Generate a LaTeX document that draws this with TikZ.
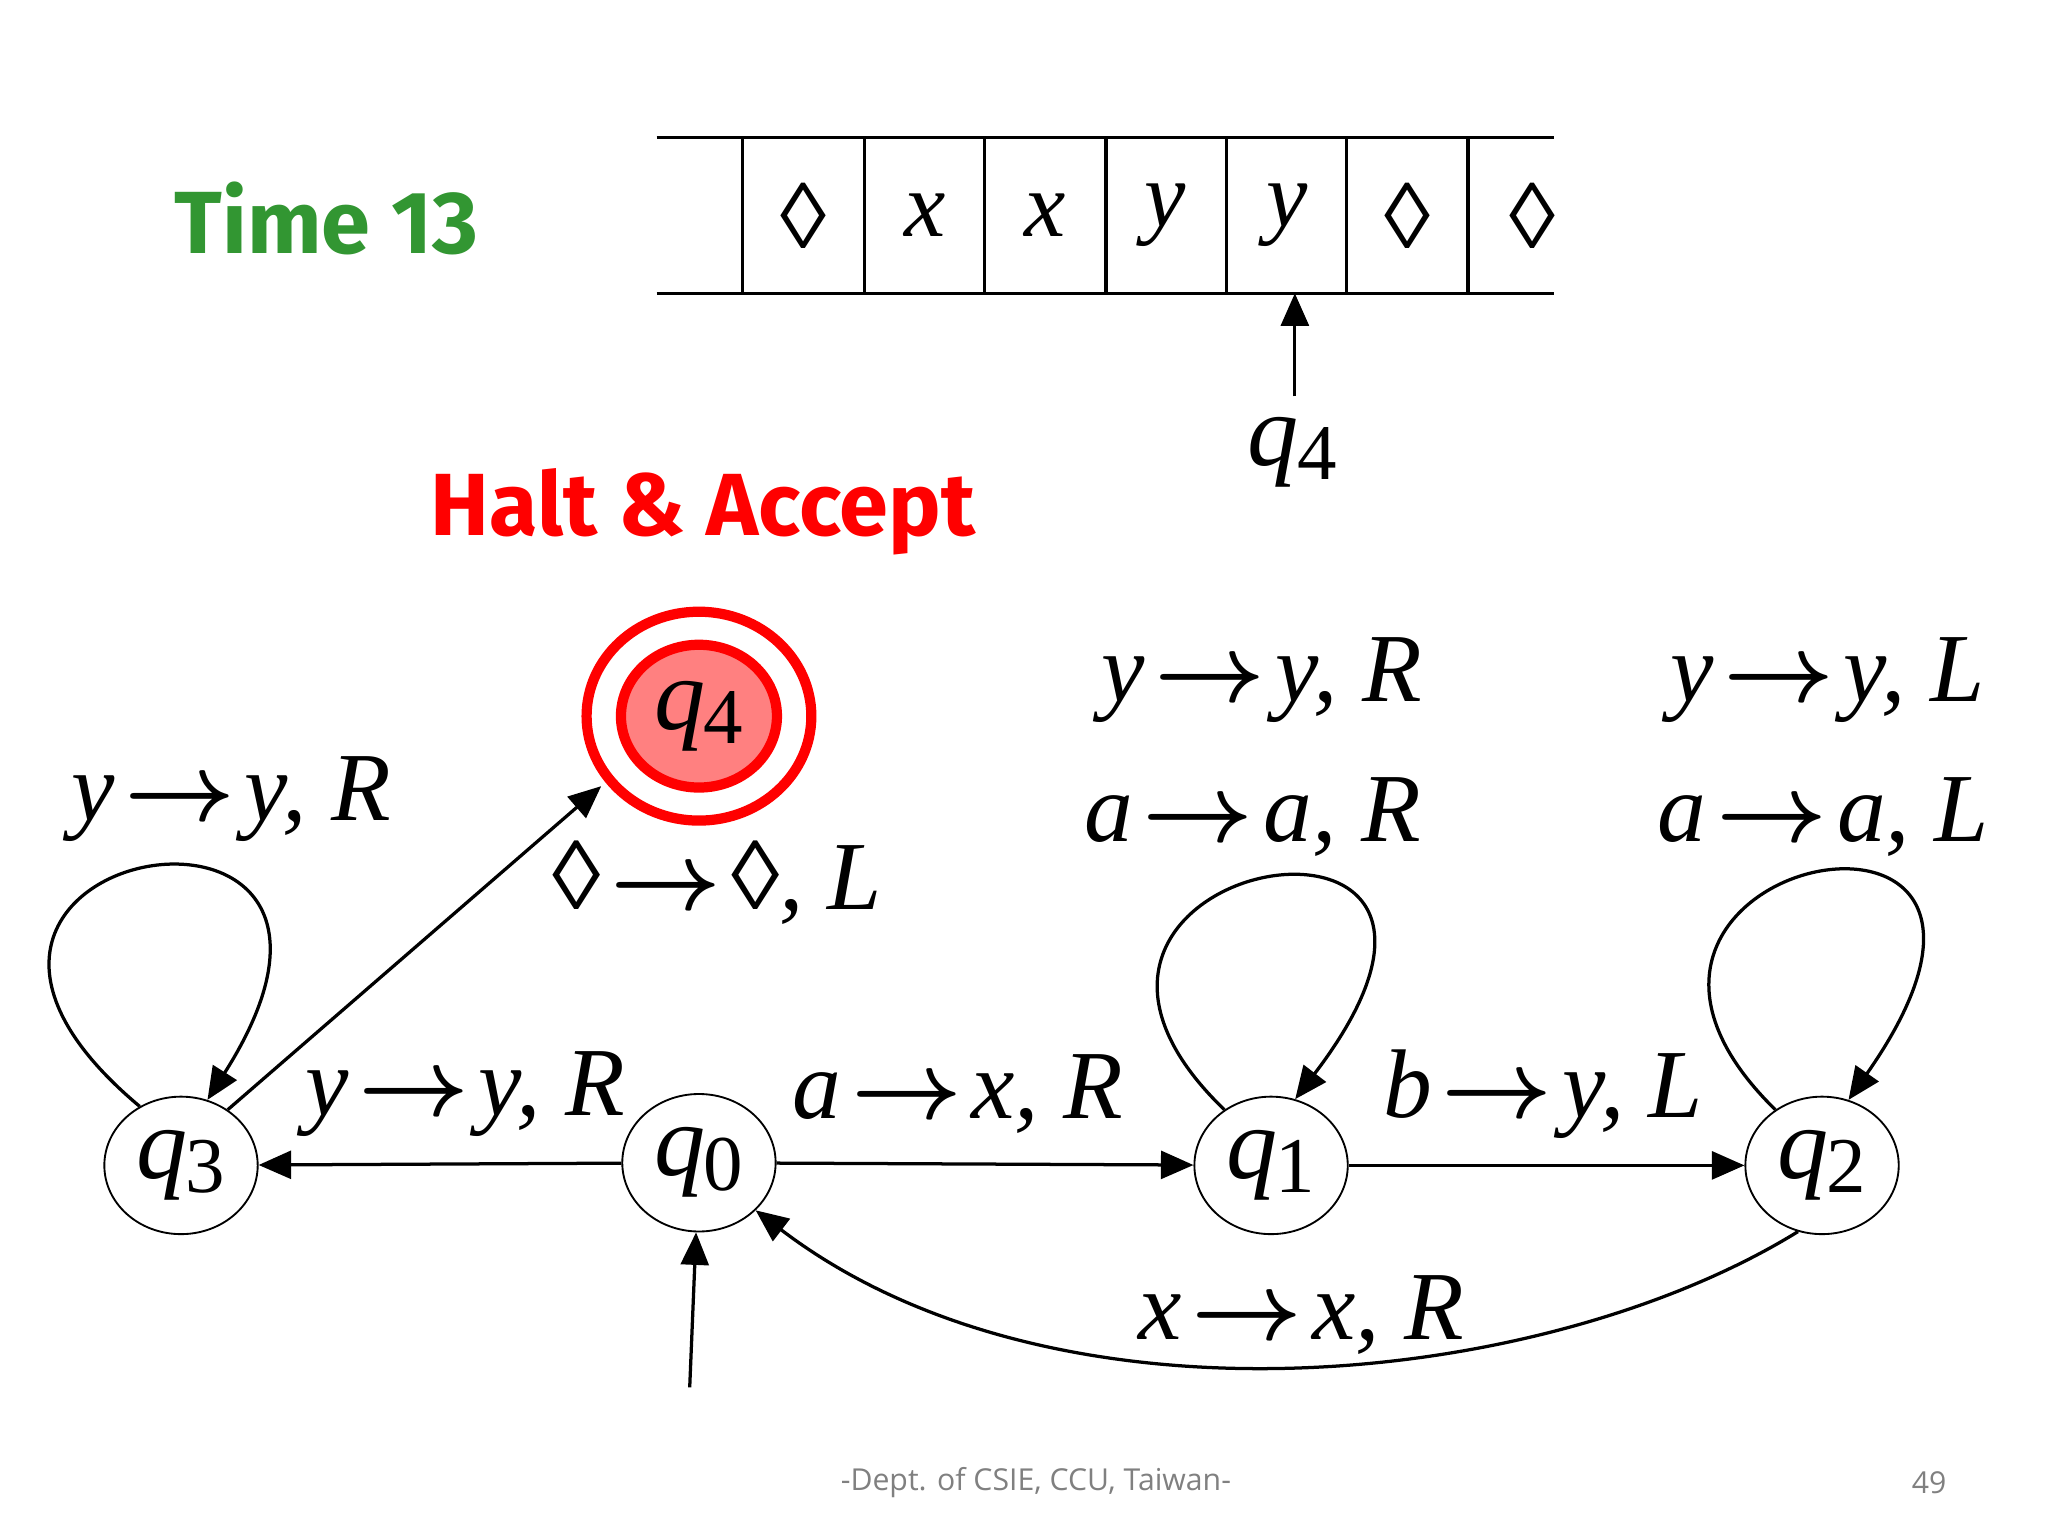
\documentclass[tikz,border=0pt]{standalone}
\usepackage{fontspec}
\setmainfont{Liberation Serif}
\newfontfamily\comic{Fira Sans}
\newfontfamily\foot{Open Sans}
\usetikzlibrary{shapes.geometric,arrows.meta}
\definecolor{tgreen}{RGB}{50,150,50}
\newcommand{\qs}[1]{{\itshape q}\kern-.02em\raisebox{-.3ex}{\fontsize{17}{17}\selectfont #1}}
\newcommand{\tto}{\kern.1em{\boldmath$\rightarrow$}\kern.1em}
\begin{document}
\begin{tikzpicture}[x=0.01cm,y=-0.01cm,
  st/.style={draw,ellipse,minimum width=1.16cm,minimum height=1.04cm,inner sep=0pt,font=\fontsize{22}{22}\selectfont},
  lab/.style={font=\fontsize{21}{21}\selectfont\itshape},
  tl/.style={font=\fontsize{20}{20}\selectfont\itshape},
  ed/.style={-{Triangle[length=7pt,width=6pt]},line width=0.7pt},
  ln/.style={line width=0.7pt}]
\useasboundingbox (0,0) rectangle (1550,1162.5);
% tape
\draw[ln] (497,104) -- (1176,104);
\draw[ln] (497,222) -- (1176,222);
\foreach \x in {562,654,745,837,928,1019,1111} \draw[ln] (\x,104) -- (\x,222);
\node[tl] (c1) at (608,163) {◊};
\node[tl] (c2) at (700,163) {x};
\node[tl] (c3) at (791,163) {x};
\node[tl] (c4) at (882,163) {y};
\node[tl] (c5) at (974,163) {y};
\node[tl] (c6) at (1065,163) {◊};
\node[tl] (c7) at (1160,163) {◊};
\node[font=\fontsize{22}{22}\selectfont] (hq) at (978,342) {\qs{4}};
\coordinate (hp) at (980,222);
\draw[ed] (980,300) -- (hp);
\node[text=tgreen,font=\comic\bfseries\fontsize{19}{19}\selectfont] (time) at (247,165) {Time 13};
\node[text=red,font=\comic\bfseries\fontsize{19}{19}\selectfont] (halt) at (532,387) {Halt \& Accept};
% states
\node[st] (q3) at (137,882) {\qs{3}};
\node[st] (q0) at (529,880) {\qs{0}};
\node[st] (q1) at (962,882) {\qs{1}};
\node[st] (q2) at (1379,882) {\qs{2}};
\node[st,fill=red!50!white,draw=red,line width=2.2pt,minimum width=1.18cm,minimum height=1.08cm] (q4) at (529,542) {\qs{4}};
\node[draw=red,line width=2.2pt,ellipse,minimum width=1.7cm,minimum height=1.58cm] (q4o) at (529,542) {};
% edges
\coordinate (q0in) at (522,1050);
\coordinate (q4t) at (455,595);
\draw[ed] (q0in) -- (q0);
\draw[ed] (q0) -- (q3);
\draw[ed] (q0) -- (q1);
\draw[ed] (q1) -- (q2);
\draw[ed] (q3.50) -- (q4t);
\draw[ed] (q2.250) .. controls (1170,1050) and (800,1090) .. (q0.-40);
\draw[ed] (q3.125) .. controls (-130,640) and (330,560) .. (q3.68);
\draw[ed] (q1.130) .. controls (730,650) and (1180,570) .. (q1.70);
\draw[ed] (q2.130) .. controls (1150,650) and (1590,560) .. (q2.68);
% labels
\node[lab] (l1) at (175,605) {y\tto y, R};
\node[lab] (l2) at (543,668) {◊\tto ◊, L};
\node[lab] (l3) at (352,828) {y\tto y, R};
\node[lab] (l4) at (725,828) {a\tto x, R};
\node[lab] (l5) at (955,515) {y\tto y, R};
\node[lab] (l6) at (948,618) {a\tto a, R};
\node[lab] (l7) at (1383,515) {y\tto y, L};
\node[lab] (l8) at (1380,618) {a\tto a, L};
\node[lab] (l9) at (1168,828) {b\tto y, L};
\node[lab] (l10) at (985,995) {x\tto x, R};
\node[text=gray,font=\foot\fontsize{6.5}{6.5}\selectfont] (ft) at (784,1122) {-Dept. of CSIE, CCU, Taiwan-};
\node[text=gray,font=\foot\fontsize{6.5}{6.5}\selectfont] (pg) at (1460,1122) {49};
\end{tikzpicture}
\end{document}
